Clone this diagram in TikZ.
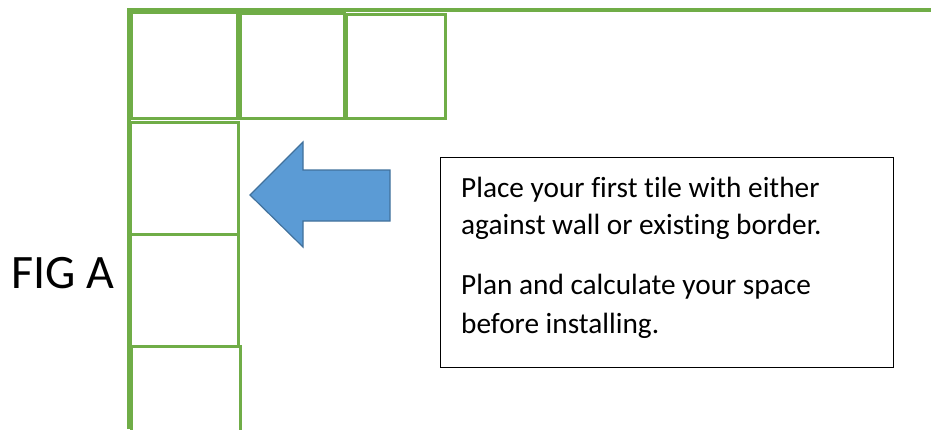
\documentclass[tikz,border=0pt]{standalone}
\usepackage{fontspec}
\setmainfont{Carlito}[Ligatures=NoCommon]
\begin{document}
\begin{tikzpicture}[x=1pt,y=-1pt,
  tile/.style={draw=tilegreen,line width=3pt},
  wall/.style={draw=tilegreen,line width=3.4pt},
  txt/.style={anchor=base west,inner sep=0pt,font=\fontsize{29.3}{34}\selectfont},
]
\definecolor{tilegreen}{HTML}{70AD47}
\definecolor{arrowfill}{HTML}{5B9BD5}
\definecolor{arrowline}{HTML}{41719C}
\useasboundingbox (0,0) rectangle (931,429);
% walls
\draw[wall] (129,429) -- (129,10) -- (931,10);
% top row tiles
\draw[tile] (131,12) rectangle (237,118);
\draw[tile] (240,13) rectangle (344,118);
\draw[tile] (346,14) rectangle (445,118);
% left column tiles
\draw[tile] (130,122) rectangle (238,234);
\draw[tile] (130,234) rectangle (238,346);
\draw[tile] (131,346) rectangle (240,440);
% arrow
\draw[fill=arrowfill,draw=arrowline,line width=1.2pt,line join=miter]
  (250,195) -- (303,142) -- (303,170) -- (390,170) -- (390,221) -- (303,221) -- (303,247) -- cycle;
% text box
\node[draw=black,line width=0.8pt,minimum width=453pt,minimum height=210pt,inner sep=0pt] (box) at (666.5,262) {};
\node[txt] (l1) at (461,197) {Place your first tile with either};
\node[txt] (l2) at (461,234) {against wall or existing border.};
\node[txt] (l3) at (461,294) {Plan and calculate your space};
\node[txt] (l4) at (461,333) {before installing.};
% label
\node[anchor=base west,inner sep=0pt,font=\fontsize{48}{52}\selectfont] (fig) at (11,288) {FIG A};
\end{tikzpicture}
\end{document}
